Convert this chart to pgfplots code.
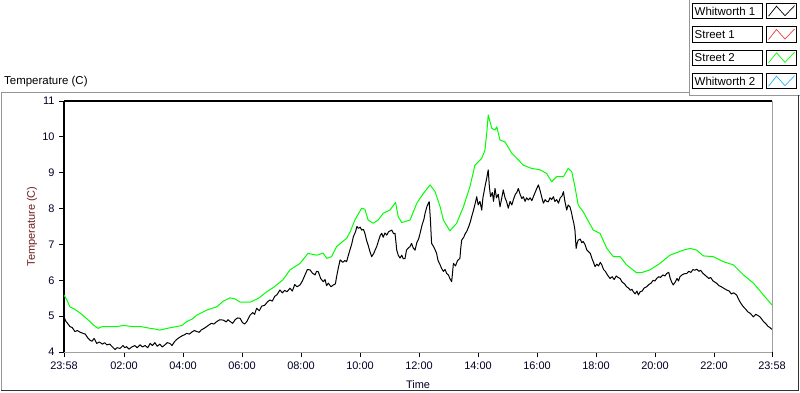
\documentclass[border=0pt]{standalone}
\usepackage{pgfplots}
\pgfplotsset{compat=1.18}
\usepackage{fontspec}
\setmainfont{Liberation Sans}
\definecolor{wh1}{RGB}{0,0,0}
\definecolor{st1}{RGB}{240,60,60}
\definecolor{st2}{RGB}{0,255,0}
\definecolor{wh2}{RGB}{40,180,255}
\definecolor{panelgray}{RGB}{150,150,150}
\definecolor{axgray}{RGB}{160,160,160}
\definecolor{ylab}{RGB}{110,30,30}

\pgfplotstableread{
h T
0.00 5.59
0.10 5.45
0.20 5.26
0.35 5.20
0.54 5.09
0.70 4.98
0.88 4.85
1.00 4.75
1.16 4.66
1.30 4.71
1.56 4.71
1.80 4.71
2.00 4.74
2.34 4.71
2.60 4.71
2.92 4.66
3.10 4.64
3.25 4.61
3.50 4.66
3.82 4.71
4.00 4.74
4.16 4.85
4.35 4.92
4.50 5.03
4.84 5.17
5.18 5.26
5.40 5.42
5.63 5.51
5.80 5.48
5.97 5.39
6.31 5.39
6.60 5.50
6.87 5.68
7.10 5.80
7.42 6.01
7.66 6.29
8.00 6.47
8.27 6.75
8.57 6.70
8.78 6.76
8.91 6.61
9.07 6.66
9.24 6.94
9.40 7.05
9.58 7.17
9.70 7.35
9.86 7.68
10.09 8.01
10.20 7.98
10.31 7.68
10.48 7.59
10.65 7.68
10.82 7.87
11.05 7.96
11.24 8.17
11.33 7.77
11.45 7.61
11.73 7.68
11.96 8.15
12.18 8.42
12.41 8.66
12.58 8.47
12.75 8.05
12.86 7.68
13.08 7.38
13.31 7.59
13.54 8.05
13.76 8.61
13.93 9.21
14.16 9.40
14.27 9.63
14.34 10.20
14.38 10.61
14.50 10.24
14.61 10.19
14.67 10.28
14.78 9.91
14.95 9.86
15.18 9.54
15.35 9.40
15.57 9.21
15.85 9.12
16.14 9.08
16.36 8.98
16.53 8.75
16.70 8.89
16.93 8.89
17.09 9.12
17.21 9.03
17.32 8.61
17.43 8.10
17.60 7.91
17.94 7.40
18.17 7.31
18.40 6.89
18.62 6.66
18.85 6.66
19.07 6.43
19.41 6.21
19.60 6.22
19.86 6.29
20.20 6.47
20.54 6.70
20.99 6.84
21.22 6.89
21.45 6.84
21.67 6.68
22.01 6.66
22.35 6.52
22.69 6.43
23.03 6.15
23.37 5.92
23.71 5.59
24.00 5.31
}\streettwo

\pgfplotstableread{
h T
0.00 4.98
0.04 4.90
0.07 4.85
0.12 4.80
0.20 4.71
0.28 4.68
0.37 4.57
0.45 4.60
0.55 4.55
0.65 4.52
0.72 4.50
0.80 4.40
0.88 4.33
0.95 4.30
1.02 4.38
1.11 4.24
1.20 4.28
1.30 4.22
1.38 4.26
1.45 4.20
1.55 4.22
1.63 4.15
1.73 4.07
1.80 4.12
1.90 4.10
2.00 4.18
2.06 4.12
2.12 4.15
2.20 4.08
2.30 4.14
2.40 4.18
2.48 4.12
2.58 4.20
2.66 4.14
2.75 4.18
2.84 4.12
2.92 4.24
3.00 4.18
3.08 4.26
3.16 4.16
3.25 4.22
3.33 4.14
3.42 4.20
3.50 4.26
3.59 4.24
3.66 4.18
3.74 4.28
3.82 4.35
3.90 4.40
4.00 4.45
4.08 4.48
4.16 4.52
4.25 4.50
4.34 4.56
4.42 4.60
4.50 4.57
4.58 4.55
4.66 4.62
4.75 4.66
4.84 4.71
4.92 4.76
5.00 4.80
5.08 4.78
5.18 4.85
5.28 4.90
5.40 4.89
5.50 4.84
5.56 4.90
5.63 4.85
5.72 4.80
5.80 4.90
5.88 4.95
5.97 4.94
6.05 4.82
6.12 4.78
6.20 4.85
6.31 5.03
6.40 5.10
6.46 5.05
6.53 5.22
6.62 5.15
6.70 5.28
6.80 5.30
6.90 5.40
6.98 5.45
7.06 5.42
7.14 5.55
7.22 5.60
7.32 5.73
7.40 5.65
7.48 5.72
7.56 5.68
7.66 5.78
7.74 5.70
7.82 5.88
7.90 5.82
8.00 5.87
8.08 5.98
8.17 6.15
8.25 6.30
8.34 6.29
8.42 6.20
8.51 6.15
8.56 6.25
8.62 6.24
8.70 6.05
8.79 5.96
8.85 6.02
8.90 5.85
8.96 5.92
9.05 5.82
9.13 5.87
9.20 5.90
9.24 6.10
9.30 6.35
9.36 6.57
9.45 6.50
9.52 6.55
9.58 6.52
9.64 6.70
9.69 6.84
9.75 7.00
9.81 7.22
9.88 7.35
9.93 7.50
9.98 7.45
10.04 7.48
10.09 7.40
10.15 7.42
10.20 7.31
10.26 7.10
10.31 6.98
10.37 6.80
10.43 6.66
10.50 6.75
10.55 6.85
10.60 6.94
10.66 7.10
10.72 7.25
10.77 7.31
10.82 7.20
10.88 7.32
10.94 7.26
11.00 7.35
11.06 7.38
11.11 7.40
11.17 7.30
11.22 7.31
11.26 7.00
11.28 6.84
11.33 6.70
11.39 6.62
11.45 6.70
11.50 6.60
11.56 6.61
11.61 6.84
11.67 6.90
11.73 6.94
11.78 7.03
11.84 6.90
11.90 6.84
11.96 7.05
12.02 7.15
12.07 7.31
12.14 7.55
12.20 7.70
12.24 7.87
12.30 8.05
12.35 8.15
12.38 8.19
12.42 7.70
12.46 7.03
12.52 6.95
12.58 6.85
12.63 6.75
12.68 6.55
12.74 6.45
12.80 6.33
12.86 6.25
12.92 6.30
12.97 6.19
13.03 6.15
13.08 6.05
13.14 5.96
13.17 6.20
13.20 6.47
13.27 6.40
13.34 6.55
13.42 6.61
13.45 6.90
13.48 7.12
13.55 7.20
13.60 7.30
13.65 7.36
13.72 7.50
13.78 7.65
13.82 7.78
13.88 7.95
13.94 8.15
13.99 8.33
14.04 8.10
14.10 8.20
14.16 7.96
14.20 8.30
14.27 8.61
14.33 8.85
14.38 9.08
14.42 8.60
14.46 8.33
14.52 8.45
14.56 8.20
14.61 8.56
14.66 8.30
14.72 8.40
14.78 8.05
14.84 8.30
14.89 8.52
14.95 8.30
15.00 8.20
15.06 8.01
15.12 8.20
15.18 8.10
15.23 8.24
15.30 8.40
15.35 8.45
15.40 8.56
15.46 8.40
15.52 8.28
15.57 8.33
15.63 8.20
15.68 8.30
15.74 8.24
15.80 8.30
15.86 8.22
15.91 8.33
15.97 8.45
16.02 8.55
16.08 8.66
16.14 8.50
16.20 8.30
16.25 8.15
16.31 8.25
16.36 8.20
16.42 8.19
16.47 8.30
16.53 8.25
16.59 8.33
16.64 8.20
16.70 8.25
16.76 8.15
16.82 8.30
16.88 8.35
16.93 8.47
16.98 8.20
17.04 7.96
17.09 8.10
17.15 8.05
17.20 7.90
17.24 7.73
17.28 7.60
17.32 7.40
17.36 6.89
17.40 7.05
17.43 7.12
17.50 7.15
17.55 7.05
17.60 7.08
17.66 7.00
17.72 6.85
17.78 6.80
17.84 6.75
17.90 6.60
17.95 6.50
18.00 6.38
18.06 6.45
18.12 6.40
18.18 6.50
18.23 6.43
18.29 6.30
18.35 6.25
18.42 6.15
18.51 6.05
18.58 6.10
18.65 6.02
18.72 6.12
18.78 6.08
18.85 6.05
18.92 5.95
19.00 5.90
19.07 5.82
19.14 5.78
19.20 5.72
19.25 5.75
19.30 5.68
19.36 5.62
19.42 5.70
19.47 5.59
19.53 5.68
19.60 5.70
19.66 5.78
19.75 5.82
19.82 5.88
19.90 5.92
19.97 6.00
20.03 5.98
20.09 6.05
20.16 6.10
20.22 6.08
20.30 6.15
20.37 6.12
20.43 6.19
20.50 6.22
20.55 6.05
20.60 5.95
20.65 5.87
20.72 5.95
20.78 6.05
20.83 5.98
20.88 6.10
20.95 6.15
21.02 6.18
21.11 6.19
21.18 6.25
21.25 6.22
21.32 6.30
21.38 6.28
21.45 6.31
21.52 6.25
21.58 6.28
21.65 6.20
21.72 6.15
21.79 6.10
21.86 6.05
21.92 6.08
22.00 5.98
22.06 5.95
22.12 5.92
22.20 5.85
22.28 5.82
22.36 5.78
22.46 5.73
22.55 5.70
22.62 5.62
22.70 5.65
22.80 5.59
22.88 5.45
22.95 5.35
23.03 5.26
23.10 5.20
23.18 5.12
23.26 5.08
23.37 4.98
23.45 5.05
23.52 5.02
23.59 4.98
23.65 4.92
23.71 4.85
23.78 4.80
23.86 4.72
23.93 4.68
24.00 4.63
}\whitone

\begin{document}
\begin{tikzpicture}[x=1bp,y=1bp]
\path[use as bounding box] (0,0) rectangle (800,392);
% outer panel
\draw[panelgray, line width=1bp] (1,2) -- (1,299.5) -- (689,299.5);
\draw[panelgray, line width=1bp] (689,392) -- (689,297) -- (800,297);
\draw[black!80, line width=1bp] (1,2) -- (798.5,2) -- (798.5,297);
% panel title
\node[anchor=west, inner sep=0pt, font=\fontsize{11.5}{13}\selectfont] at (4,310.5) {Temperature (C)};
% legend
\foreach \yb/\name/\col in {373.3/Whitworth 1/wh1, 350/Street 1/st1, 326.7/Street 2/st2, 303.3/Whitworth 2/wh2}{
  \draw[black, line width=0.8bp] (692.7,\yb) rectangle (762.7,\yb+15.4);
  \node[anchor=west, inner sep=0pt, font=\fontsize{11.5}{13}\selectfont] at (694.5,\yb+7.7) {\name};
  \draw[black, line width=0.8bp] (766.7,\yb) rectangle (796.7,\yb+15.4);
  \draw[\col, line width=0.7bp] (768.5,\yb+2.5) -- (776.5,\yb+12.5) -- (785,\yb+3) -- (794.5,\yb+13);
}
\begin{axis}[
  name=ax,
  at={(64bp,40bp)}, anchor=south west,
  scale only axis, width=708bp, height=251bp,
  xmin=0, xmax=24, ymin=4, ymax=11,
  axis x line*=bottom, axis y line*=left,
  x axis line style={axgray, line width=1bp, -},
  y axis line style={black, line width=1.5bp, -},
  tick align=outside,
  major tick length=5bp, minor tick length=3bp,
  tick style={black, line width=0.8bp},
  xtick={0,2.0333,4.0333,6.0333,8.0333,10.0333,12.0333,14.0333,16.0333,18.0333,20.0333,22.0333,24},
  xticklabels={23:58,02:00,04:00,06:00,08:00,10:00,12:00,14:00,16:00,18:00,20:00,22:00,23:58},
  minor x tick num=5,
  ytick={4,5,6,7,8,9,10,11},
  /pgf/number format/assume math mode=true,
  ticklabel style={font=\fontsize{11}{13}\selectfont, text=black!85!blue},
  xticklabel style={yshift=-1bp},
  yticklabel style={xshift=-1bp},
  xlabel={Time}, ylabel={Temperature (C)},
  every axis x label/.style={at={(axis description cs:0.5,0)}, yshift=-32.5bp, anchor=center, font=\fontsize{11}{13}\selectfont, text=black!85!blue},
  every axis y label/.style={at={(axis description cs:0,0.5)}, xshift=-32bp, anchor=center, rotate=90, font=\fontsize{11}{13}\selectfont, text=ylab},
]
\addplot[st2, line width=1bp, line join=round] table[x=h, y=T] {\streettwo};
\addplot[wh1, line width=1bp, line join=round] table[x=h, y=T] {\whitone};
\end{axis}
\draw[axgray, line width=1bp] (ax.north east) -- (ax.south east);
\draw[black, line width=1.5bp] (ax.north west) -- (ax.north east);
\end{tikzpicture}
\end{document}
